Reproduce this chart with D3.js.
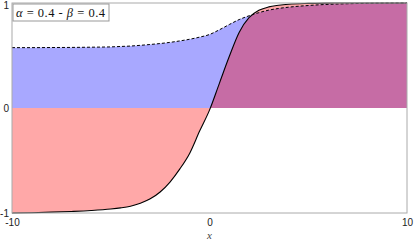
<!DOCTYPE html>
<html>
<head>
<meta charset="utf-8">
<script src="https://cdn.jsdelivr.net/npm/d3@7"></script>
<style>
    body { margin: 0; background: #fff; }
    svg { display: block; }
    .tick text { font-family: "Liberation Sans", Arial, sans-serif; font-size: 10px; fill: #222; }
</style>
</head>
<body>
<div id="holder"></div>
<script>
const xs     = [-10, -9, -8, -7, -6, -5, -4.5, -4, -3.5, -3, -2.5, -2, -1.5, -1, -0.5, 0, 0.5, 1, 1.5, 2, 2.5, 3, 3.5, 4, 5, 6, 7, 8, 10];
const solid  = [-1.0, -0.997, -0.992, -0.985, -0.976, -0.962, -0.951, -0.935, -0.907, -0.865, -0.8, -0.705, -0.58, -0.43, -0.22, -0.02, 0.235, 0.49, 0.72, 0.86, 0.93, 0.963, 0.978, 0.988, 0.996, 0.999, 1.0, 1.0, 1.0];
const dashed = [0.575, 0.575, 0.576, 0.577, 0.579, 0.582, 0.586, 0.59, 0.597, 0.605, 0.614, 0.625, 0.639, 0.655, 0.675, 0.7, 0.745, 0.795, 0.842, 0.878, 0.908, 0.932, 0.948, 0.96, 0.976, 0.987, 0.993, 0.997, 1.0];
const xTicks = [-10, 0, 10];
const yTicks = [-1, 0, 1];

const w = 414, h = 242;
const padL = 12, padR = 407, padT = 3, padB = 213;

const svg = d3.select('#holder').append('svg')
    .attr('width', w)
    .attr('height', h);

const xScale = d3.scaleLinear().domain([-10, 10]).range([padL, padR]);
const yScale = d3.scaleLinear().domain([-1, 1]).range([padB, padT]);

const rows = xs.map((x, i) => ({x: x, s: solid[i], d: dashed[i]}));

const areaOf = key => d3.area()
    .curve(d3.curveMonotoneX)
    .x(d => xScale(d.x))
    .y0(yScale(0))
    .y1(d => yScale(d[key]));

const lineOf = key => d3.line()
    .curve(d3.curveMonotoneX)
    .x(d => xScale(d.x))
    .y(d => yScale(d[key]));

svg.append('clipPath')
    .attr('id', 'blueClip')
    .append('path')
    .attr('d', areaOf('d')(rows));

svg.append('path').attr('d', areaOf('s')(rows)).attr('fill', '#ffa8a8');
svg.append('path').attr('d', areaOf('d')(rows)).attr('fill', '#a8a8ff');
svg.append('path').attr('d', areaOf('s')(rows)).attr('fill', '#c66ca5')
    .attr('clip-path', 'url(#blueClip)');

svg.append('path').attr('d', lineOf('d')(rows))
    .attr('fill', 'none').attr('stroke', '#000').attr('stroke-width', 1)
    .attr('stroke-dasharray', '3,2');
svg.append('path').attr('d', lineOf('s')(rows))
    .attr('fill', 'none').attr('stroke', '#000').attr('stroke-width', 1.1);

// frame
svg.append('rect')
    .attr('x', padL).attr('y', padT)
    .attr('width', padR - padL).attr('height', padB - padT)
    .attr('fill', 'none').attr('stroke', '#aaa').attr('stroke-width', 1);

const xAxis = d3.axisBottom(xScale).tickValues(xTicks).tickSize(0).tickPadding(6)
    .tickFormat(d => String(d));
const yAxis = d3.axisLeft(yScale).tickValues(yTicks).tickSize(0).tickPadding(3)
    .tickFormat(d => String(d));

svg.append('g')
    .attr('transform', `translate(0,${padB})`)
    .call(xAxis)
    .call(g => g.select('.domain').remove());

svg.append('g')
    .attr('transform', `translate(${padL},0)`)
    .call(yAxis)
    .call(g => g.select('.domain').remove())
    .call(g => g.selectAll('.tick text').attr('dy', (d) => d === 1 ? '0.55em' : '0.32em'));

svg.append('text')
    .text('x')
    .attr('x', xScale(0))
    .attr('y', 239)
    .attr('text-anchor', 'middle')
    .style('font-family', '"Liberation Serif", "DejaVu Serif", serif')
    .style('font-style', 'italic')
    .style('font-size', '11px')
    .style('fill', '#444');

// legend
const legend = svg.append('g').attr('transform', 'translate(13,4)');
legend.append('rect')
    .attr('width', 96).attr('height', 17)
    .attr('fill', '#fff').attr('stroke', '#999').attr('stroke-width', 1);
const lt = legend.append('text')
    .attr('x', 3).attr('y', 12.5)
    .attr('textLength', 89)
    .attr('lengthAdjust', 'spacing')
    .style('font-family', '"Liberation Serif", "DejaVu Serif", serif')
    .style('font-size', '12.5px')
    .style('fill', '#111');
lt.append('tspan').style('font-style', 'italic').text('α');
lt.append('tspan').text(' = 0.4 - ');
lt.append('tspan').style('font-style', 'italic').text('β');
lt.append('tspan').text(' = 0.4');
</script>
</body>
</html>
